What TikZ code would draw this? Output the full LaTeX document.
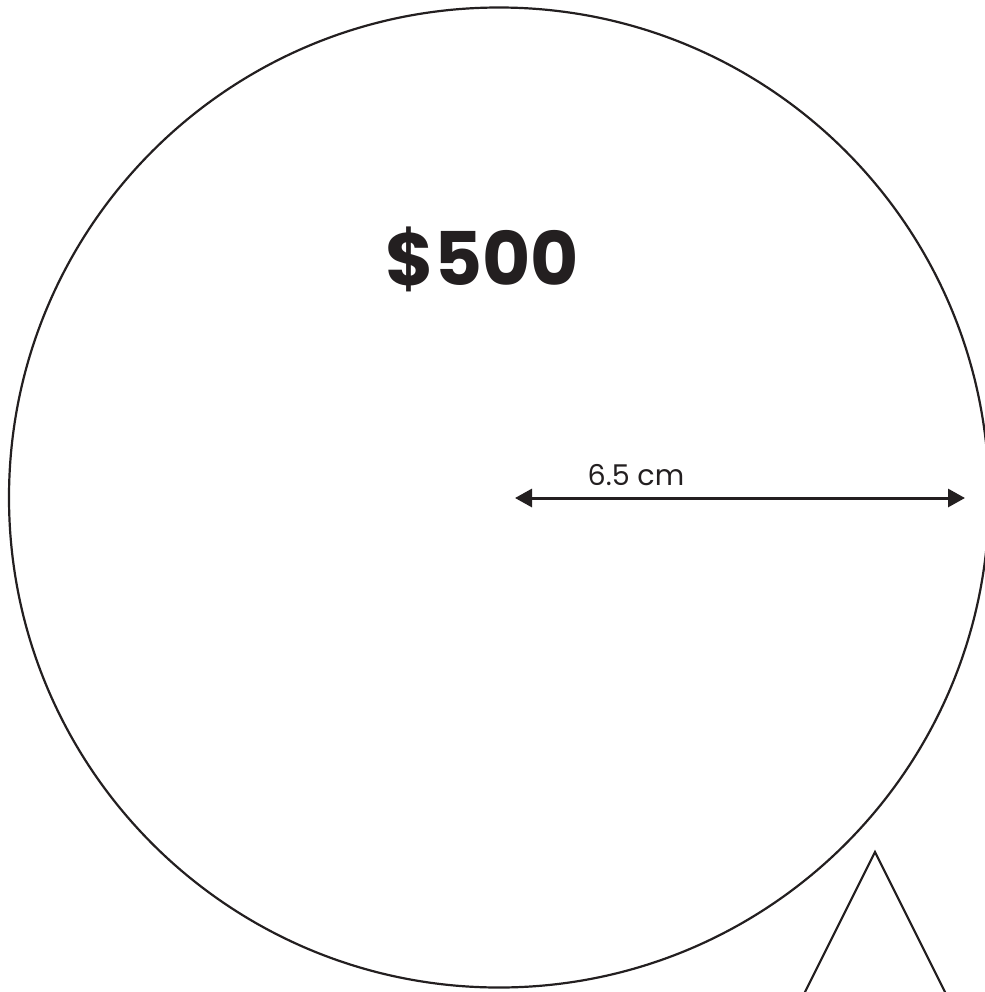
\documentclass[tikz,border=0pt]{standalone}
\usepackage{fontspec}
\setmainfont{Poppins}
\usetikzlibrary{arrows.meta}
\definecolor{ink}{HTML}{231F20}
\begin{document}
\begin{tikzpicture}[x=0.5pt,y=-0.5pt,
  outline/.style={draw=ink, line width=1.1pt},
  dimline/.style={draw=ink, line width=1.5pt, {Triangle[length=8.5pt,width=9pt]}-{Triangle[length=8.5pt,width=9pt]}},
  price/.style={text=ink, font=\fontsize{37}{40}\selectfont\bfseries, inner sep=0pt},
  dimlabel/.style={text=ink, font=\fontsize{14.3}{16}\selectfont, inner sep=0pt}]
\useasboundingbox (0,0) rectangle (985,992);
\clip (0,0) rectangle (985,992);
\coordinate (c) at (499,497.5);
\draw[outline] (c) circle[radius=245pt];
\node[price, anchor=base] (amount) at (482.5,285) {\$500};
\coordinate (a) at (515,498);
\coordinate (b) at (965,498);
\draw[dimline] (a) -- (b);
\node[dimlabel, anchor=base] (len) at (636,485) {6.5 cm};
\coordinate (apex) at (875,852);
\coordinate (tl) at (770,1062);
\coordinate (tr) at (980,1062);
\draw[outline, line join=miter] (tl) -- (apex) -- (tr);
\end{tikzpicture}
\end{document}
